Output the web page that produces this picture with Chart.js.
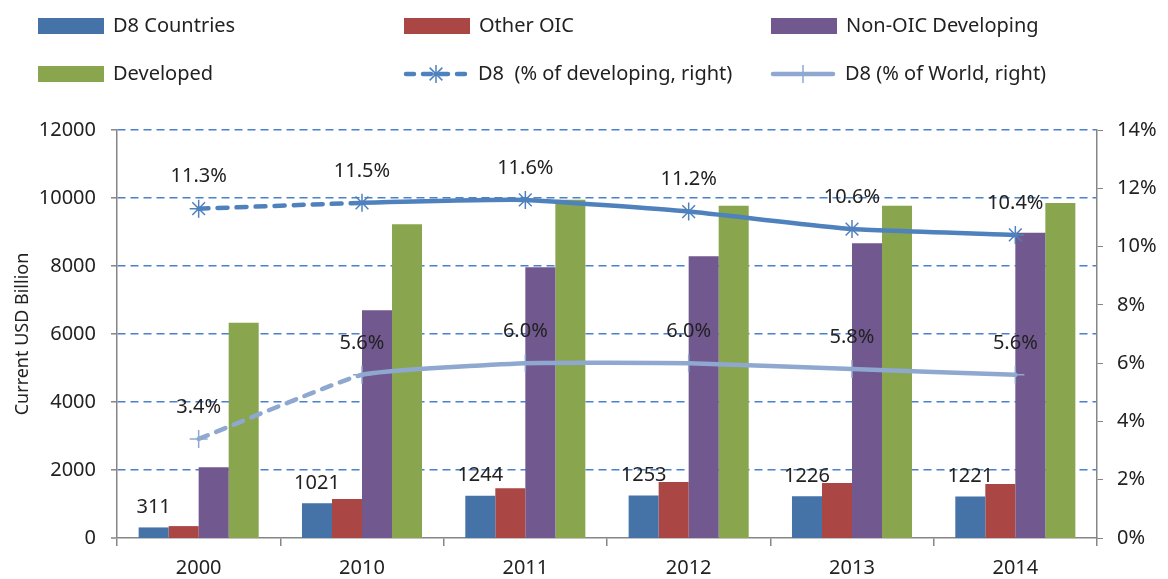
<!DOCTYPE html>
<html>
<head>
<meta charset="utf-8">
<script src="https://cdn.jsdelivr.net/npm/chart.js@4.4.1/dist/chart.umd.min.js"></script>
<style>
  html, body { margin: 0; padding: 0; background: #fff; }
  #wrap { width: 1168px; height: 579px; }
</style>
</head>
<body>
<div id="wrap"><canvas id="myChart" width="1168" height="579"></canvas></div>
<script>
let years = ['2000', '2010', '2011', '2012', '2013', '2014'];
let d8 = [311, 1021, 1244, 1253, 1226, 1221];
let otherOic = [350, 1150, 1460, 1650, 1620, 1590];
let nonOicDev = [2080, 6700, 7960, 8290, 8670, 8980];
let developed = [6330, 9230, 9950, 9770, 9770, 9850];
let d8ShareDev = [11.3, 11.5, 11.6, 11.2, 10.6, 10.4];
let d8ShareWorld = [3.4, 5.6, 6.0, 6.0, 5.8, 5.6];

let fontName = "'Noto Sans', 'DejaVu Sans', sans-serif";
let txt = '#222222';
let axisGrey = '#868686';
let gridBlue = '#4A80CC';

// dashed only for the first segment (2000 -> 2010)
let firstDash = ctx => ctx.p0DataIndex === 0 ? [10, 9] : undefined;

let labelPlugin = {
	id: 'valueLabels',
	afterDatasetsDraw(chart) {
		let ctx = chart.ctx;
		ctx.save();
		ctx.font = '20px ' + fontName;
		ctx.fillStyle = txt;
		ctx.textAlign = 'center';
		ctx.textBaseline = 'bottom';
		chart.getDatasetMeta(0).data.forEach((bar, i) => {
			ctx.fillText(d8[i], bar.x, bar.y - 10);
		});
		[4, 5].forEach(di => {
			let vals = chart.data.datasets[di].data;
			chart.getDatasetMeta(di).data.forEach((pt, i) => {
				ctx.fillText(vals[i].toFixed(1) + '%', pt.x, pt.y - 22);
			});
		});
		ctx.restore();
	}
};

let legendPlugin = {
	id: 'gridLegend',
	afterDraw(chart) {
		let ctx = chart.ctx;
		let ds = chart.data.datasets;
		let items = [
			{ i: 0, x: 38, y: 26 }, { i: 1, x: 404, y: 26 }, { i: 2, x: 771, y: 26 },
			{ i: 3, x: 38, y: 74 }, { i: 4, x: 404, y: 74 }, { i: 5, x: 771, y: 74 }
		];
		ctx.save();
		ctx.font = '20px ' + fontName;
		ctx.textBaseline = 'middle';
		items.forEach(it => {
			let d = ds[it.i];
			if (d.type === 'bar') {
				ctx.fillStyle = d.backgroundColor;
				ctx.fillRect(it.x, it.y - 8, 66, 16);
			} else {
				ctx.strokeStyle = d.borderColor;
				ctx.lineWidth = 4.5;
				ctx.lineCap = 'round';
				ctx.setLineDash(it.i === 4 ? [8, 9] : []);
				ctx.beginPath();
				ctx.moveTo(it.x + 2, it.y);
				ctx.lineTo(it.x + 62, it.y);
				ctx.stroke();
				ctx.setLineDash([]);
				ctx.lineWidth = 1.5;
				ctx.lineCap = 'butt';
				Chart.helpers.drawPoint(ctx, {
					pointStyle: d.pointStyle, radius: 9, rotation: 0, borderWidth: 1.5
				}, it.x + 32, it.y);
			}
			ctx.fillStyle = txt;
			ctx.fillText(d.label, it.x + (d.type === 'bar' ? 75 : 74), it.y);
		});
		ctx.restore();
	}
};

let myChart = document.getElementById('myChart').getContext('2d');

let chart = new Chart(myChart, {
	type: 'bar',
	data: {
		labels: years,
		datasets: [
			{ type: 'bar', label: 'D8 Countries', data: d8, backgroundColor: '#4572A7', yAxisID: 'y', order: 2 },
			{ type: 'bar', label: 'Other OIC', data: otherOic, backgroundColor: '#AA4643', yAxisID: 'y', order: 2 },
			{ type: 'bar', label: 'Non-OIC Developing', data: nonOicDev, backgroundColor: '#71588F', yAxisID: 'y', order: 2 },
			{ type: 'bar', label: 'Developed', data: developed, backgroundColor: '#89A54E', yAxisID: 'y', order: 2 },
			{
				type: 'line', label: 'D8  (% of developing, right)', data: d8ShareDev, yAxisID: 'y1', order: 1,
				borderColor: '#4F81BD', borderWidth: 4.5, borderCapStyle: 'round', tension: 0.12,
				pointStyle: 'star', pointRadius: 9, pointBorderWidth: 1.5,
				pointBorderColor: '#4F81BD', pointBackgroundColor: '#4F81BD',
				segment: { borderDash: firstDash }
			},
			{
				type: 'line', label: 'D8 (% of World, right)', data: d8ShareWorld, yAxisID: 'y1', order: 0,
				borderColor: '#8EA8D0', borderWidth: 4.5, borderCapStyle: 'round', tension: 0.12,
				pointStyle: 'cross', pointRadius: 9, pointBorderWidth: 1.5,
				pointBorderColor: '#8EA8D0', pointBackgroundColor: '#8EA8D0',
				segment: { borderDash: firstDash }
			}
		]
	},
	options: {
		responsive: false,
		animation: false,
		devicePixelRatio: 1,
		layout: { padding: { top: 130, right: 0, left: 0, bottom: 0 } },
		datasets: { bar: { categoryPercentage: 0.735, barPercentage: 1.0 } },
		plugins: {
			legend: { display: false },
			title: { display: false },
			tooltip: { enabled: false }
		},
		scales: {
			x: {
				offset: true,
				grid: { offset: true, drawOnChartArea: false, color: axisGrey, tickLength: 8, lineWidth: 1.5 },
				border: { color: axisGrey, width: 1.5 },
				ticks: { color: txt, font: { family: fontName, size: 20 }, padding: 10 },
				afterFit: s => { s.height = 41; }
			},
			y: {
				position: 'left',
				min: 0, max: 12000,
				ticks: { stepSize: 2000, color: txt, font: { family: fontName, size: 20 }, padding: 15, callback: v => String(v) },
				grid: {
					color: gridBlue,
					lineWidth: c => c.tick && c.tick.value === 0 ? 0 : 1.6,
					tickColor: axisGrey, tickLength: 6, tickWidth: 1.5
				},
				border: { color: axisGrey, width: 1.5, dash: [8, 5] },
				title: {
					display: true, text: 'Current USD Billion', color: txt,
					font: { family: fontName, size: 18 }, padding: { top: 12, bottom: 0 }
				},
				afterFit: s => { s.width = 117; }
			},
			y1: {
				position: 'right',
				min: 0, max: 14,
				ticks: { stepSize: 2, color: txt, font: { family: fontName, size: 20 }, padding: 14, callback: v => v + '%' },
				grid: { drawOnChartArea: false, color: axisGrey, tickLength: 6 },
				border: { color: axisGrey, width: 1.5 },
				afterFit: s => { s.width = 71; }
			}
		}
	},
	plugins: [labelPlugin, legendPlugin]
});
</script>
</body>
</html>
